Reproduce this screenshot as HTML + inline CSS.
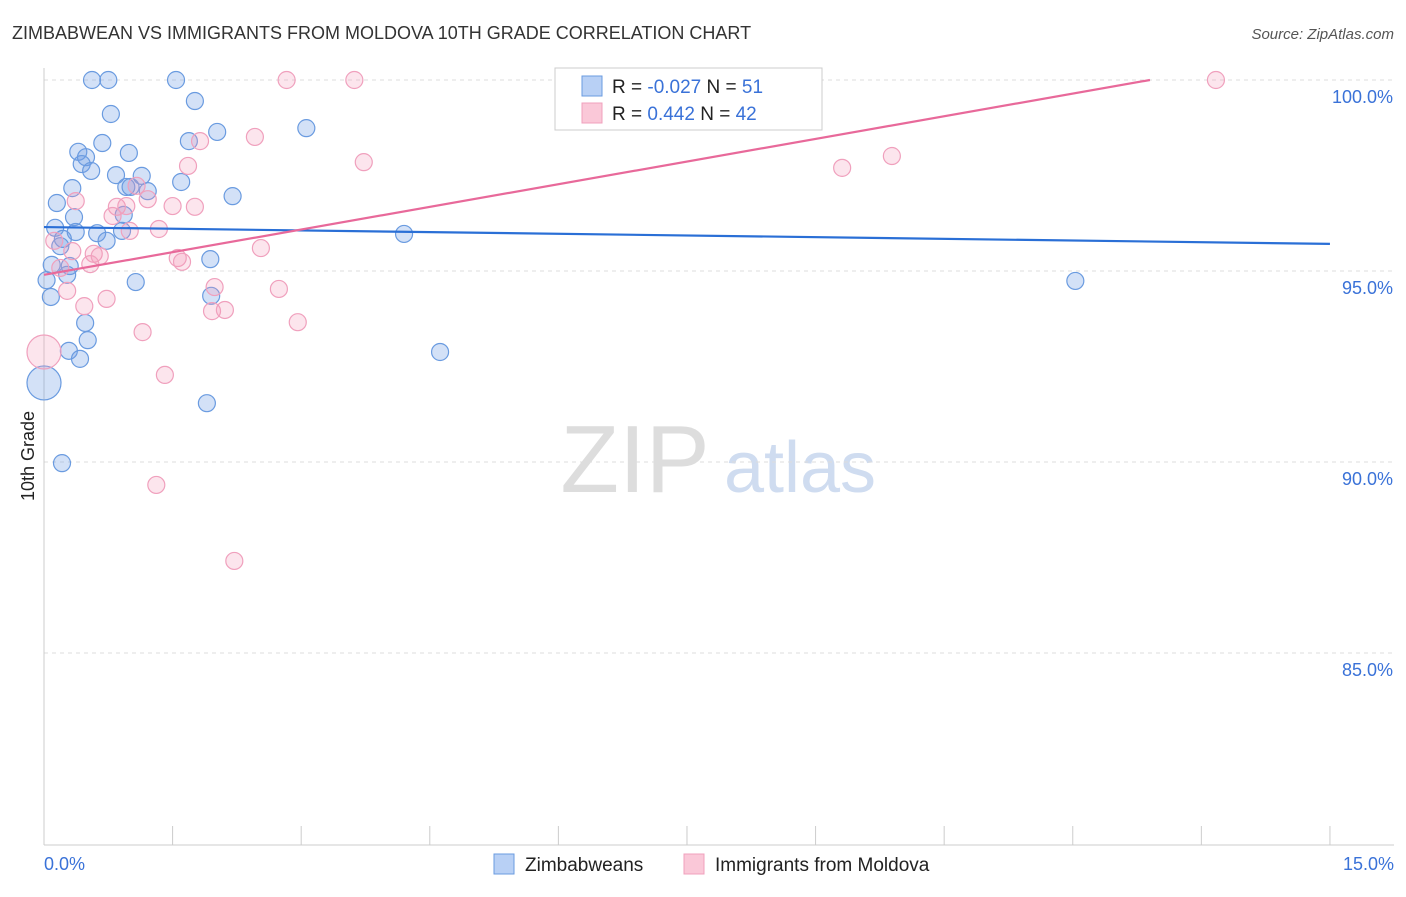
<!DOCTYPE html>
<html><head><meta charset="utf-8"><style>
body{margin:0;background:#fff;font-family:"Liberation Sans",sans-serif}
svg text{font-family:"Liberation Sans",sans-serif}
</style></head><body>
<svg id="chart" width="1406" height="892" xmlns="http://www.w3.org/2000/svg">
<text x="12" y="39" font-size="18" fill="#333">ZIMBABWEAN VS IMMIGRANTS FROM MOLDOVA 10TH GRADE CORRELATION CHART</text>
<text x="1394" y="39" font-size="15" fill="#555" text-anchor="end" font-style="italic">Source: ZipAtlas.com</text>
<text transform="translate(34,456) rotate(-90)" font-size="18" fill="#222" text-anchor="middle">10th Grade</text>
<g><text x="635" y="492" font-size="96" fill="#ddd" font-family="Liberation Serif" text-anchor="middle">ZIP</text><text x="800" y="492" font-size="72" fill="#cfdcf0" text-anchor="middle">atlas</text></g>
<g id="grid"></g><g id="axes"></g><g id="marks"></g><g id="trends"></g>
<g>
<rect x="555" y="68" width="267" height="62" fill="#fff" stroke="#ccc"/>
<rect x="582" y="76" width="20" height="20" fill="#b8d0f5" stroke="#6a9be0"/>
<rect x="582" y="103" width="20" height="20" fill="#fac8d8" stroke="#f0a0bd"/>
<text x="612" y="93" font-size="19" fill="#222">R = <tspan fill="#3a72d8">-0.027</tspan>   N = <tspan fill="#3a72d8"> 51</tspan></text>
<text x="612" y="120" font-size="19" fill="#222">R =   <tspan fill="#3a72d8">0.442</tspan>   N = <tspan fill="#3a72d8">42</tspan></text>
</g>
<g>
<rect x="494" y="854" width="20" height="20" fill="#b8d0f5" stroke="#6a9be0"/>
<text x="525" y="871" font-size="19" fill="#222">Zimbabweans</text>
<rect x="684" y="854" width="20" height="20" fill="#fac8d8" stroke="#f0a0bd"/>
<text x="715" y="871" font-size="19" fill="#222">Immigrants from Moldova</text>
</g>
</svg>
<script>
const yTicks=[100,95,90,85];
const yTickLabels=["100.0%","95.0%","90.0%","85.0%"];
const xTickLabels=["0.0%","15.0%"];
const blueX=[0.56,0.75,1.54,1.76,0.78,3.06,2.02,1.69,0.68,0.40,0.49,0.99,0.44,0.55,0.84,1.14,1.60,0.33,0.96,1.01,1.21,2.20,0.15,0.35,0.93,0.13,0.37,0.62,0.91,4.20,0.22,0.73,0.19,1.94,0.09,0.30,0.27,0.03,1.07,12.03,0.08,1.95,0.48,0.51,0.29,4.62,0.42,0.0,1.90,0.21];
const blueY=[100,100,100,99.45,99.11,98.74,98.64,98.40,98.35,98.12,97.98,98.09,97.80,97.62,97.51,97.49,97.33,97.17,97.20,97.20,97.09,96.96,96.78,96.41,96.47,96.13,96.02,95.99,96.05,95.97,95.84,95.79,95.65,95.31,95.16,95.13,94.90,94.76,94.71,94.74,94.32,94.35,93.64,93.19,92.91,92.88,92.70,92.07,91.54,89.97];
const blueBig=[47];
const pinkX=[2.83,3.62,7.97,13.67,1.82,2.46,1.68,3.73,9.31,9.89,0.37,1.21,1.50,1.76,0.85,0.96,0.80,1.00,1.34,2.53,0.33,0.12,0.58,0.65,1.56,1.61,0.54,0.19,0.27,1.99,2.74,0.47,0.73,1.96,2.11,2.96,1.15,0,1.41,1.31,2.22,1.08];
const pinkY=[100,100,100,100,98.40,98.51,97.75,97.85,97.70,98.01,96.83,96.88,96.70,96.68,96.68,96.70,96.44,96.05,96.10,95.60,95.52,95.79,95.45,95.39,95.34,95.24,95.18,95.08,94.48,94.58,94.53,94.08,94.27,93.95,93.98,93.66,93.40,92.88,92.28,89.40,87.41,97.23];
const pinkBig=[37];
const blueTrend=[96.15,95.71];
const pinkTrend=[94.9,100.83];
const X=v=>44+v*85.73, Y=v=>80+(100-v)*38.2;
const NS="http://www.w3.org/2000/svg";
function mk(t,a,p){const e=document.createElementNS(NS,t);for(const k in a)e.setAttribute(k,a[k]);p.appendChild(e);return e;}
const grid=document.getElementById('grid'),axes=document.getElementById('axes'),marks=document.getElementById('marks'),trends=document.getElementById('trends');
yTicks.forEach((t,i)=>{
 const l=mk('line',{x1:44,x2:1394,y1:Y(t),y2:Y(t),stroke:'#ddd','stroke-dasharray':'4,4'},grid);
 
 
 const tx=mk('text',{x:1393,y:Y(t)+23,'font-size':18,fill:'#3a72d8','text-anchor':'end'},axes);tx.textContent=yTickLabels[i];
 
 
});
const ax=mk('line',{x1:44,x2:44,y1:68,y2:845,stroke:'#ccc'},axes);


const bx=mk('line',{x1:44,x2:1394,y1:845,y2:845,stroke:'#ccc'},axes);


for(let i=0;i<=10;i++){const t=mk('line',{x1:X(i*1.5),x2:X(i*1.5),y1:826,y2:845,stroke:'#ccc'},axes);
 
 }
[[0,'start',44],[1,'end',1394]].forEach(([i,a,x])=>{const t=mk('text',{x:x,y:870,'font-size':18,fill:'#3a72d8','text-anchor':a},axes);t.textContent=xTickLabels[i];
 
 });
function pts(xs,ys,big,fill,stroke,name){xs.forEach((x,i)=>{const c=mk('circle',{cx:X(x),cy:Y(ys[i]),r:big.includes(i)?17:8.5,fill:fill,stroke:stroke,'stroke-width':1.2},marks);
 
 });}
pts(blueX,blueY,blueBig,'rgba(110,155,230,0.3)','#6a9be0','zimbabwean-point');
pts(pinkX,pinkY,pinkBig,'rgba(245,150,185,0.25)','#f0a0bd','moldova-point');
const bl=mk('line',{x1:X(0),y1:Y(blueTrend[0]),x2:X(15),y2:Y(blueTrend[1]),stroke:'#2a6fd6','stroke-width':2.2},trends);


const slope=(pinkTrend[1]-pinkTrend[0])/15;let xe=15,ye=pinkTrend[1];if(ye>100){xe=(100-pinkTrend[0])/slope;ye=100;}
const pl=mk('line',{x1:X(0),y1:Y(pinkTrend[0]),x2:X(xe),y2:Y(ye),stroke:'#e8699a','stroke-width':2.2},trends);


</script>
</body></html>
